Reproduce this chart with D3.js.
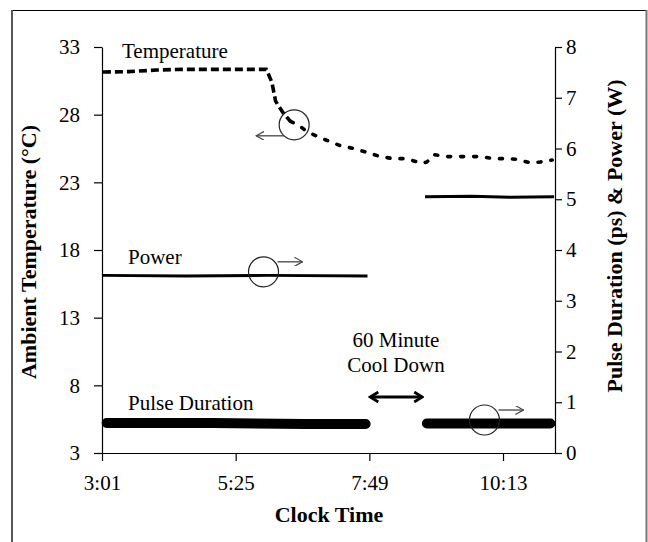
<!DOCTYPE html>
<html>
<head>
<meta charset="utf-8">
<script src="https://cdn.jsdelivr.net/npm/d3@7"></script>
<style>
  body { margin: 0; background: #fff; }
  svg text { font-family: "Liberation Serif", "Times New Roman", serif; fill: #000; }
</style>
</head>
<body>
<svg id="chart" width="648" height="542"></svg>
<script>
"use strict";

// Ambient temperature (left axis), [clock time, °C]
const temperature = [
    ["3:02", 31.15], ["3:30", 31.18], ["4:00", 31.3], ["4:30", 31.35], ["5:00", 31.35],
    ["5:30", 31.35], ["5:58", 31.35], ["6:04", 30.4], ["6:08", 29.0], ["6:16", 28.15],
    ["6:24", 27.5], ["6:32", 27.25], ["6:42", 26.75], ["6:56", 26.3], ["7:07", 26.0],
    ["7:18", 25.7], ["7:32", 25.5], ["7:47", 25.2], ["8:01", 24.9], ["8:15", 24.75],
    ["8:26", 24.75], ["8:36", 24.6], ["8:46", 24.4], ["8:51", 24.5], ["8:58", 25.05],
    ["9:13", 24.9], ["9:24", 24.9], ["9:38", 24.9], ["9:49", 24.9], ["10:03", 24.75],
    ["10:18", 24.75], ["10:28", 24.7], ["10:42", 24.45], ["10:53", 24.5], ["11:06", 24.65]
];
// index where the dash pattern turns into dots
const tempSplit = 10;

// Laser power (right axis), [clock time, W]; null = laser off
const power = [
    ["3:02", 3.5], ["4:30", 3.49], ["6:00", 3.5], ["7:47", 3.49],
    ["7:48", null],
    ["8:49", 5.05], ["9:40", 5.06], ["10:20", 5.04], ["11:08", 5.05]
];

// Pulse duration (right axis), [clock time, ps]
const pulse = [
    ["3:06", 0.59], ["5:00", 0.59], ["6:40", 0.57], ["7:45", 0.57],
    ["7:46", null],
    ["8:51", 0.58], ["10:00", 0.58], ["11:04", 0.58]
];

const xTicks = ["3:01", "5:25", "7:49", "10:13"];
const xRange = ["3:01", "11:09"];
const leftTicks = [3, 8, 13, 18, 23, 28, 33];
const rightTicks = [0, 1, 2, 3, 4, 5, 6, 7, 8];

// annotation circles: [time, value, axis]
const markers = [
    { t: "6:28", v: 27.25, axis: "left", dir: -1 },
    { t: "5:55", v: 3.57, axis: "right", dir: 1 },
    { t: "9:53", v: 0.65, axis: "right", dir: 1 }
];

const minutes = s => { const [h, m] = s.split(":").map(Number); return h * 60 + m; };

const svg = d3.select("#chart");
const plot = { left: 102, right: 555, top: 47, bottom: 453 };

const x = d3.scaleLinear().domain(xRange.map(minutes)).range([plot.left, plot.right]);
const yL = d3.scaleLinear().domain([3, 33]).range([plot.bottom, plot.top]);
const yR = d3.scaleLinear().domain([0, 8]).range([plot.bottom, plot.top]);

// chart border
svg.append("line").attr("x1", 12).attr("x2", 647).attr("y1", 10.5).attr("y2", 10.5)
    .attr("stroke", "#000").attr("stroke-width", 1);
svg.append("line").attr("x1", 12).attr("x2", 12).attr("y1", 10).attr("y2", 542)
    .attr("stroke", "#555").attr("stroke-width", 2);
svg.append("line").attr("x1", 646.5).attr("x2", 646.5).attr("y1", 10).attr("y2", 542)
    .attr("stroke", "#777").attr("stroke-width", 2);

// axes
const fontSize = "21px";
const titleSize = "22px";
const gx = svg.append("g").attr("transform", `translate(0,${plot.bottom})`)
    .call(d3.axisBottom(x).tickValues(xTicks.map(minutes))
        .tickFormat((d, i) => xTicks[i]).tickSize(8).tickPadding(14).tickSizeOuter(0));
const gl = svg.append("g").attr("transform", `translate(${plot.left},0)`)
    .call(d3.axisLeft(yL).tickValues(leftTicks).tickSize(8).tickPadding(14).tickSizeOuter(0));
const gr = svg.append("g").attr("transform", `translate(${plot.right},0)`)
    .call(d3.axisRight(yR).tickValues(rightTicks).tickSize(7).tickPadding(4).tickSizeOuter(0));
[gx, gl, gr].forEach(g => {
    g.attr("font-family", null);
    g.selectAll("path, line").attr("stroke", "#000").attr("stroke-width", 1.2);
    g.selectAll("text").style("font-size", fontSize)
        .style("font-family", "'Liberation Serif', 'Times New Roman', serif");
});

// axis titles
svg.append("text").attr("transform", "translate(36,252) rotate(-90)")
    .attr("text-anchor", "middle").style("font-size", titleSize).style("font-weight", "bold")
    .text("Ambient Temperature (°C)");
svg.append("text").attr("transform", "translate(622,236) rotate(-90)")
    .attr("text-anchor", "middle").style("font-size", titleSize).style("font-weight", "bold")
    .text("Pulse Duration (ps) & Power (W)");
svg.append("text").attr("x", 329).attr("y", 522)
    .attr("text-anchor", "middle").style("font-size", titleSize).style("font-weight", "bold")
    .text("Clock Time");

// series
const line = yScale => d3.line()
    .defined(d => d[1] !== null)
    .x(d => x(minutes(d[0])))
    .y(d => yScale(d[1]));

svg.append("path").datum(temperature.slice(0, tempSplit + 1))
    .attr("d", line(yL)).attr("fill", "none").attr("stroke", "#000")
    .attr("stroke-width", 3.6).attr("stroke-dasharray", "8,4");
svg.append("path").datum(temperature.slice(tempSplit))
    .attr("d", line(yL)).attr("fill", "none").attr("stroke", "#000")
    .attr("stroke-width", 3.6).attr("stroke-linecap", "round").attr("stroke-dasharray", "3,10");

svg.append("path").datum(power)
    .attr("d", line(yR)).attr("fill", "none").attr("stroke", "#000")
    .attr("stroke-width", 3);

svg.append("path").datum(pulse)
    .attr("d", line(yR)).attr("fill", "none").attr("stroke", "#000")
    .attr("stroke-width", 10).attr("stroke-linecap", "round");

// series labels
const labels = [
    { text: "Temperature", x: 122, y: 58 },
    { text: "Power", x: 128, y: 264 },
    { text: "Pulse Duration", x: 128, y: 410 },
    { text: "60 Minute", x: 396, y: 347, anchor: "middle" },
    { text: "Cool Down", x: 396, y: 372, anchor: "middle" }
];
svg.selectAll("text.lbl").data(labels).enter().append("text")
    .attr("class", "lbl")
    .attr("x", d => d.x).attr("y", d => d.y)
    .attr("text-anchor", d => d.anchor || "start")
    .style("font-size", fontSize)
    .text(d => d.text);

// marker circles with arrows toward their axis
const defs = svg.append("defs");
defs.append("marker").attr("id", "open").attr("viewBox", "0 0 10 10")
    .attr("refX", 9).attr("refY", 5).attr("markerWidth", 9).attr("markerHeight", 9)
    .attr("markerUnits", "userSpaceOnUse").attr("orient", "auto")
    .append("path").attr("d", "M0,0 L9,5 L0,10").attr("fill", "none")
    .attr("stroke", "#444").attr("stroke-width", 1.3);

markers.forEach(m => {
    const cx = x(minutes(m.t));
    const cy = (m.axis === "left" ? yL : yR)(m.v);
    const r = 15;
    svg.append("circle").attr("cx", cx).attr("cy", cy).attr("r", r)
        .attr("fill", "none").attr("stroke", "#222").attr("stroke-width", 1.2);
    let x1, y1, x2;
    if (m.dir < 0) { x1 = cx - 10; y1 = cy + 11; x2 = cx - 38; }
    else { x1 = cx + 14; y1 = cy - 10; x2 = cx + 39; }
    svg.append("line").attr("x1", x1).attr("y1", y1).attr("x2", x2).attr("y2", y1)
        .attr("stroke", "#444").attr("stroke-width", 1.3).attr("marker-end", "url(#open)");
});

// cool-down double arrow, spanning the gap in the power data
defs.append("marker").attr("id", "bold").attr("viewBox", "0 0 12 12")
    .attr("refX", 10).attr("refY", 6).attr("markerWidth", 12).attr("markerHeight", 12)
    .attr("markerUnits", "userSpaceOnUse").attr("orient", "auto-start-reverse")
    .append("path").attr("d", "M2,1 L10,6 L2,11").attr("fill", "none")
    .attr("stroke", "#000").attr("stroke-width", 2.8);
svg.append("line")
    .attr("x1", x(minutes("7:50"))).attr("x2", x(minutes("8:46")))
    .attr("y1", 397).attr("y2", 397)
    .attr("stroke", "#000").attr("stroke-width", 3)
    .attr("marker-start", "url(#bold)").attr("marker-end", "url(#bold)");
</script>
</body>
</html>
